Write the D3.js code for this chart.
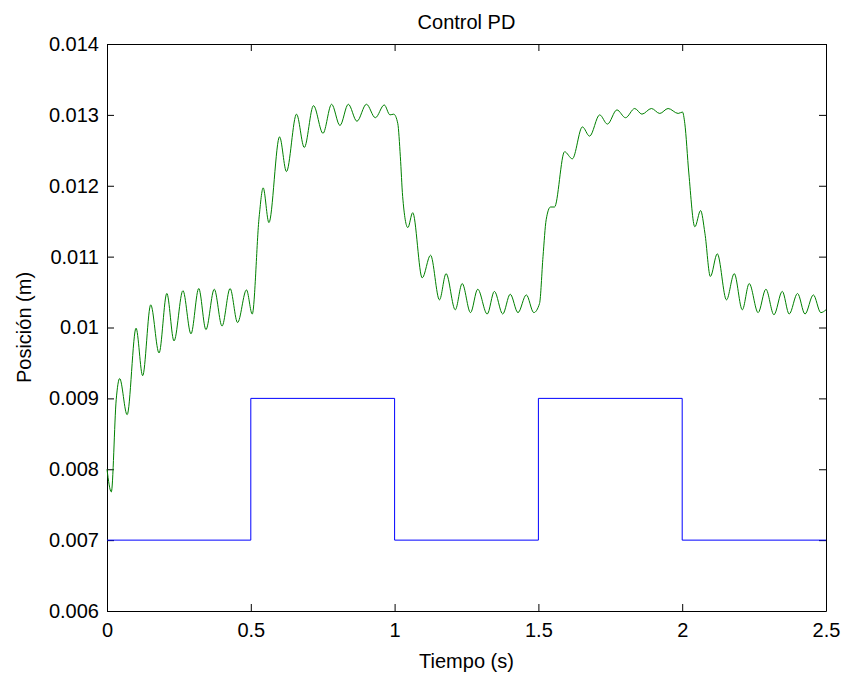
<!DOCTYPE html>
<html>
<head>
<meta charset="utf-8">
<script src="https://cdn.jsdelivr.net/npm/d3@7"></script>
<style>
  body { margin: 0; background: #fff; }
  text { font-family: "Liberation Sans", Arial, sans-serif; }
</style>
</head>
<body>
<div id="viz"></div>
<script>
// posición medida (verde)
var tiempo = [0, 0.015, 0.032, 0.044, 0.070, 0.101, 0.124, 0.152, 0.181, 0.208, 0.233, 0.264, 0.292, 0.319, 0.344, 0.373, 0.400, 0.428, 0.454, 0.485,
    0.505, 0.529, 0.543, 0.563, 0.600, 0.624, 0.659, 0.686, 0.718, 0.751, 0.781, 0.810, 0.839, 0.869, 0.902, 0.933, 0.964, 0.984, 0.997,
    1.011, 1.020, 1.028, 1.046, 1.063, 1.096, 1.125, 1.156, 1.179, 1.211, 1.235, 1.264, 1.289, 1.322, 1.347, 1.376, 1.402, 1.429, 1.458, 1.484,
    1.504, 1.516, 1.527, 1.542, 1.556, 1.591, 1.618, 1.653, 1.678, 1.713, 1.740, 1.773, 1.803, 1.835, 1.860, 1.893, 1.922, 1.951, 1.986,
    2.001, 2.009, 2.023, 2.044, 2.064, 2.079, 2.098, 2.122, 2.154, 2.181, 2.209, 2.233, 2.264, 2.291, 2.319, 2.348, 2.372, 2.401, 2.427, 2.456, 2.482, 2.5];
var posicion = [0.00800, 0.00768, 0.00898, 0.00928, 0.00877, 0.00999, 0.00932, 0.01032, 0.00964, 0.01048, 0.00981, 0.01052, 0.00991, 0.01055, 0.00997, 0.01054, 0.01002, 0.01055, 0.01007, 0.01053,
    0.01019, 0.01156, 0.01197, 0.01148, 0.01269, 0.01220, 0.01301, 0.01254, 0.01313, 0.01274, 0.01315, 0.01285, 0.01315, 0.01291, 0.01315, 0.01296, 0.01314, 0.01300, 0.01301,
    0.01288, 0.01241, 0.01185, 0.01141, 0.01162, 0.01070, 0.01102, 0.01039, 0.01076, 0.01025, 0.01062, 0.01021, 0.01054, 0.01019, 0.01051, 0.01019, 0.01047, 0.01021, 0.01046, 0.01021,
    0.01034, 0.01100, 0.01152, 0.01170, 0.01170, 0.01248, 0.01238, 0.01283, 0.01270, 0.01300, 0.01287, 0.01307, 0.01296, 0.01309, 0.01301, 0.01309, 0.01302, 0.01309, 0.01302,
    0.01304, 0.01288, 0.01218, 0.01142, 0.01165, 0.01133, 0.01072, 0.01104, 0.01039, 0.01076, 0.01025, 0.01062, 0.01021, 0.01054, 0.01018, 0.01051, 0.01019, 0.01048, 0.01019, 0.01046, 0.01021, 0.01025];

// referencia (azul, escalones)
var tiempoRef = [0, 0.5, 1.0, 1.5, 2.0, 2.5];
var referencia = [0.007, 0.009, 0.007, 0.009, 0.007, 0.007];

var xTicks = [0, 0.5, 1, 1.5, 2, 2.5];
var xTickLabels = ['0', '0.5', '1', '1.5', '2', '2.5'];
var yTicks = [0.006, 0.007, 0.008, 0.009, 0.010, 0.011, 0.012, 0.013, 0.014];
var yTickLabels = ['0.006', '0.007', '0.008', '0.009', '0.01', '0.011', '0.012', '0.013', '0.014'];

var width = 846,
    height = 673,
    mLeft = 107, mRight = 826, mTop = 44, mBottom = 611,
    tickLen = 7,
    fontSize = '20px';

var xScale = d3.scaleLinear().domain([0, 2.5]).range([mLeft, mRight]);
var yScale = d3.scaleLinear().domain([0.006, 0.014]).range([mBottom, mTop]);

var svg = d3.select('#viz').append('svg')
    .attr('width', width)
    .attr('height', height);

// ejes con marcas hacia dentro
svg.append('g')
    .attr('transform', 'translate(0,' + mBottom + ')')
    .call(d3.axisBottom(xScale).tickValues(xTicks).tickSizeInner(-tickLen).tickSizeOuter(0)
        .tickFormat(function(d, i) { return xTickLabels[i]; }).tickPadding(12));
svg.append('g')
    .attr('transform', 'translate(0,' + mTop + ')')
    .call(d3.axisTop(xScale).tickValues(xTicks).tickSizeInner(-tickLen).tickSizeOuter(0).tickFormat(''));
svg.append('g')
    .attr('transform', 'translate(' + mLeft + ',0)')
    .call(d3.axisLeft(yScale).tickValues(yTicks).tickSizeInner(-tickLen).tickSizeOuter(0)
        .tickFormat(function(d, i) { return yTickLabels[i]; }).tickPadding(8));
svg.append('g')
    .attr('transform', 'translate(' + mRight + ',0)')
    .call(d3.axisRight(yScale).tickValues(yTicks).tickSizeInner(-tickLen).tickSizeOuter(0).tickFormat(''));

svg.selectAll('.domain').attr('stroke', '#000');
svg.selectAll('.tick line').attr('stroke', '#000');
svg.selectAll('.tick text')
    .style('font-family', '"Liberation Sans", Arial, sans-serif')
    .style('font-size', fontSize)
    .attr('fill', '#000');

var lineRef = d3.line()
    .x(function(d, i) { return xScale(tiempoRef[i]); })
    .y(function(d) { return yScale(d); })
    .curve(d3.curveStepAfter);

svg.append('path')
    .datum(referencia)
    .attr('fill', 'none')
    .attr('stroke', '#0000ff')
    .attr('stroke-width', 1)
    .attr('d', lineRef);

var linePos = d3.line()
    .x(function(d, i) { return xScale(tiempo[i]); })
    .y(function(d) { return yScale(d); })
    .curve(d3.curveMonotoneX);

svg.append('path')
    .datum(posicion)
    .attr('fill', 'none')
    .attr('stroke', '#008000')
    .attr('stroke-width', 1)
    .attr('d', linePos);

svg.append('text')
    .attr('x', (mLeft + mRight) / 2)
    .attr('y', 29)
    .attr('text-anchor', 'middle')
    .style('font-size', fontSize)
    .text('Control PD');

svg.append('text')
    .attr('x', (mLeft + mRight) / 2)
    .attr('y', 668)
    .attr('text-anchor', 'middle')
    .style('font-size', fontSize)
    .text('Tiempo (s)');

svg.append('text')
    .attr('transform', 'translate(31,' + (mTop + mBottom) / 2 + ') rotate(-90)')
    .attr('text-anchor', 'middle')
    .style('font-size', fontSize)
    .text('Posición (m)');
</script>
</body>
</html>
